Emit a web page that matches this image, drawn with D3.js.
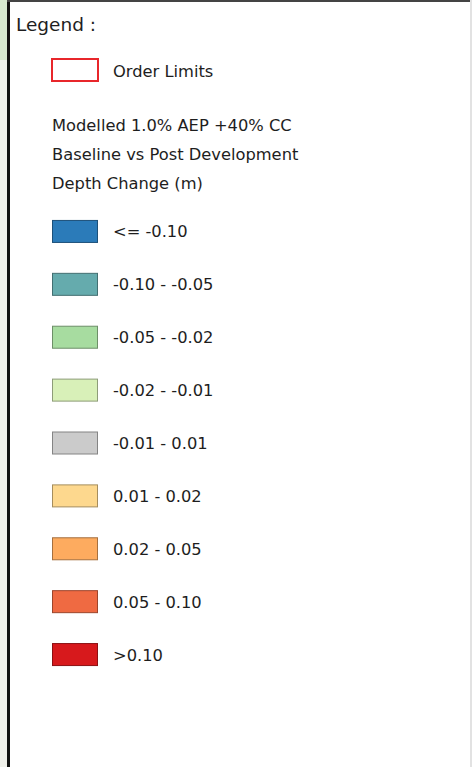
<!DOCTYPE html>
<html>
<head>
<meta charset="utf-8">
<title>Depth Change Legend</title>
<script src="https://cdn.jsdelivr.net/npm/d3@7/dist/d3.min.js"></script>
<style>
  body { margin: 0; background: #fff; }
  svg text { font-family: "DejaVu Sans", Verdana, sans-serif; fill: #1e1e1e; }
</style>
</head>
<body>
<svg id="legend"></svg>
<script>
// legend content
var title = "Legend :";
var boundaryLabel = "Order Limits";
var headingLines = ["Modelled 1.0% AEP +40% CC", "Baseline vs Post Development", "Depth Change (m)"];
var classLabels = ["<= -0.10", "-0.10 - -0.05", "-0.05 - -0.02", "-0.02 - -0.01", "-0.01 - 0.01",
                   "0.01 - 0.02", "0.02 - 0.05", "0.05 - 0.10", ">0.10"];
var classColors = ["#2b7bb9", "#65abad", "#a7dca0", "#d8f0b8", "#cbcbcb",
                   "#fdd88e", "#fdab5f", "#ef6a42", "#d7191c"];

var width = 472, height = 767;
var svg = d3.select("#legend").attr("width", width).attr("height", height);

// map background strip on the left + frame
svg.append("rect").attr("x", 0).attr("y", 0).attr("width", 8).attr("height", height).attr("fill", "#eff0ea");
svg.append("rect").attr("x", 0).attr("y", 0).attr("width", 8).attr("height", 60).attr("fill", "#d6e8cf");
svg.append("rect").attr("x", 7).attr("y", 0).attr("width", 3).attr("height", height).attr("fill", "#111");
svg.append("rect").attr("x", 7).attr("y", 0).attr("width", width).attr("height", 2).attr("fill", "#444");
svg.append("rect").attr("x", 470).attr("y", 0).attr("width", 2).attr("height", height).attr("fill", "#e2e2e2");

svg.append("text").attr("x", 16).attr("y", 31).style("font-size", "18.5px").text(title);

// order limits
svg.append("rect").attr("x", 52).attr("y", 59).attr("width", 46).attr("height", 22)
  .attr("fill", "none").attr("stroke", "#e8262b").attr("stroke-width", 2);
svg.append("text").attr("x", 113).attr("y", 77).style("font-size", "16.3px").text(boundaryLabel);

svg.selectAll("text.heading").data(headingLines).enter().append("text")
  .attr("class", "heading")
  .attr("x", 52)
  .attr("y", function(d, i) { return 131 + i * 29; })
  .style("font-size", "16.3px")
  .text(function(d) { return d; });

var y = d3.scaleBand().domain(classLabels).range([205, 681]);

var items = svg.selectAll("g.item").data(classLabels).enter().append("g")
  .attr("class", "item")
  .attr("transform", function(d) { return "translate(0," + (y(d) + y.bandwidth() / 2) + ")"; });

items.append("rect")
  .attr("x", 52.5).attr("y", -11).attr("width", 45).attr("height", 22)
  .attr("fill", function(d, i) { return classColors[i]; })
  .attr("stroke", function(d, i) { return d3.color(classColors[i]).darker(1.2); })
  .attr("stroke-width", 1);

items.append("text")
  .attr("x", 113).attr("y", 6)
  .style("font-size", "16.3px")
  .text(function(d) { return d; });
</script>
</body>
</html>
